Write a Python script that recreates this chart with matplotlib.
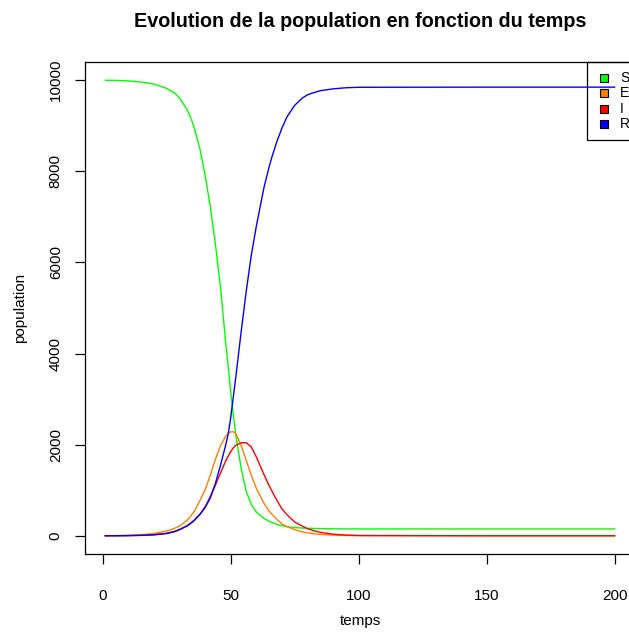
import matplotlib
matplotlib.use("Agg")
import matplotlib.pyplot as plt
from matplotlib.patches import Rectangle

plt.rcParams['font.family'] = ['Liberation Sans', 'DejaVu Sans']

# valeurs (modele SEIR)
temps = [1, 5, 10, 15, 20, 25, 28, 30, 33, 35, 36, 38, 40, 42, 44, 46, 48, 49, 50, 51,
         52, 54, 56, 58, 60, 63, 65, 66, 68, 70, 72, 75, 78, 80, 82, 85, 90, 95, 100,
         150, 200]
S = [9999, 9996, 9985, 9960, 9915, 9820, 9720, 9610, 9350, 9080, 8900, 8480, 7900, 7230,
     6400, 5450, 4250, 3700, 3150, 2650, 2200, 1500, 980, 690, 520, 380, 320, 295, 250,
     220, 200, 180, 170, 165, 162, 157, 153, 151, 150, 150, 150]
E = [0, 2, 8, 22, 50, 105, 165, 215, 340, 480, 560, 780, 1010, 1330, 1680, 1980, 2180,
     2250, 2280, 2285, 2240, 1990, 1660, 1330, 1040, 710, 540, 480, 360, 260, 200, 135,
     85, 65, 48, 30, 14, 7, 3, 0, 0]
I = [1, 2, 5, 12, 24, 55, 95, 140, 225, 310, 360, 480, 640, 860, 1110, 1380, 1640, 1750,
     1850, 1930, 1985, 2040, 2045, 1950, 1730, 1340, 1100, 990, 780, 590, 460, 300, 210,
     155, 120, 75, 35, 15, 6, 0, 0]
R = [0, 1, 3, 8, 20, 50, 90, 135, 215, 300, 350, 470, 620, 830, 1150, 1550, 1990, 2230,
     2600, 3050, 3500, 4450, 5350, 6150, 6800, 7650, 8100, 8300, 8650, 8950, 9200, 9450,
     9610, 9680, 9720, 9770, 9810, 9835, 9845, 9848, 9848]

noms = ["S", "E", "I", "R"]
couleurs = ["#00ff00", "#ff7f00", "#ff0000", "#0000ff"]

fig = plt.figure(figsize=(6.29, 6.32), dpi=100)
ax = fig.add_axes([85 / 629, 78 / 632, 550 / 629, 492 / 632])
ax.patch.set_alpha(0)  # la legende est dessinee sous les courbes

for serie, c in zip([S, E, I, R], couleurs):
    ax.plot(temps, serie, color=c, lw=1.0)

ax.set_xlim(1 - 0.04 * 199, 200 + 0.04 * 199)
ax.set_ylim(-400, 10400)
ax.set_xticks([0, 50, 100, 150, 200])
ax.set_yticks([0, 2000, 4000, 6000, 8000, 10000])
ax.tick_params(direction='out', length=7, width=0.9, labelsize=11)
ax.tick_params(axis='x', pad=18)
ax.tick_params(axis='y', pad=9)
for lab in ax.get_yticklabels():
    lab.set_rotation(90)
    lab.set_va('center')
for sp in ax.spines.values():
    sp.set_linewidth(0.9)

ax.set_xlabel("temps", fontsize=11, labelpad=8)
ax.set_ylabel("population", fontsize=11, labelpad=16)
ax.set_title("Evolution de la population en fonction du temps",
             fontsize=14.2, fontweight='bold', pad=25)

# legende (coin haut droit, coupee par le bord)
tf = fig.transFigure
fig.patches.append(Rectangle((587 / 629, 1 - 140 / 632), 0.2, 78 / 632, transform=tf,
                             facecolor='white', edgecolor='black', lw=0.9, zorder=-1))
for k, (nom, c) in enumerate(zip(noms, couleurs)):
    yc = 78 + k * 15.4
    fig.patches.append(Rectangle((600 / 629, 1 - (yc + 4) / 632), 8 / 629, 8 / 632,
                                 transform=tf, facecolor=c, edgecolor='black', lw=0.8,
                                 zorder=-1))
    fig.text(620 / 629, 1 - yc / 632, nom, fontsize=10, va='center', ha='left', zorder=-1)

fig.savefig("out.png", dpi=100)
